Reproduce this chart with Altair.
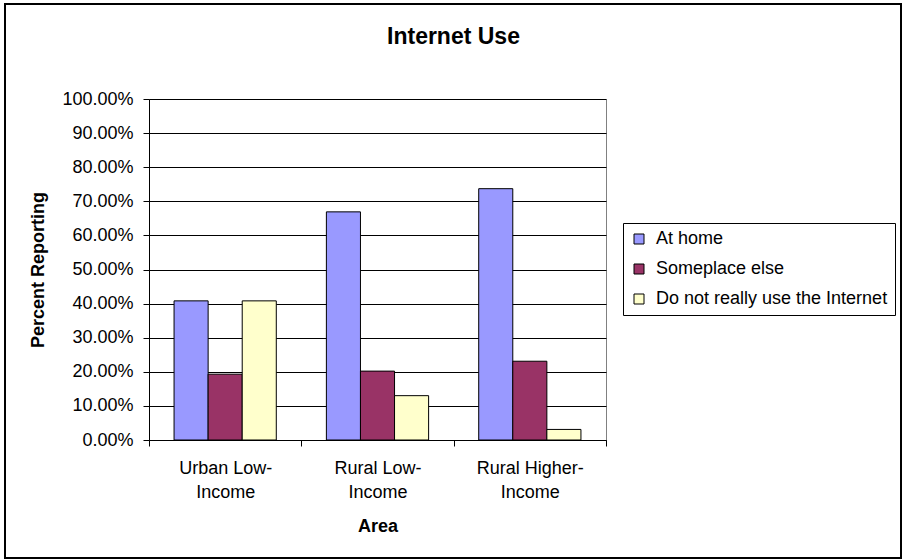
import altair as alt
import pandas as pd

areas = ["Urban Low-Income", "Rural Low-Income", "Rural Higher-Income"]
series = ["At home", "Someplace else", "Do not really use the Internet"]
at_home = [0.408, 0.669, 0.737]
someplace_else = [0.193, 0.202, 0.231]
not_use = [0.408, 0.130, 0.031]
colors = ["#9999FF", "#993366", "#FFFFCC"]
y_ticks = [i / 10 for i in range(11)]

rows = []
for i, a in enumerate(areas):
    for s, vals in zip(series, [at_home, someplace_else, not_use]):
        rows.append({"Area": a, "Series": s, "Value": vals[i]})
df = pd.DataFrame(rows)

FONT = "Arial"
W, H = 457, 341

bars = alt.Chart(df).mark_bar(stroke="black", strokeWidth=1).encode(
    x=alt.X("Area:N", sort=areas,
            scale=alt.Scale(paddingInner=0, paddingOuter=0),
            axis=alt.Axis(title="Area", labelAngle=0, tickBand="extent",
                          labelExpr="datum.label ? [split(datum.label,'-')[0] + '-', split(datum.label,'-')[1]] : ''",
                          labelLineHeight=24, labelPadding=13, tickSize=6,
                          titlePadding=16, labelBaseline="top",
                          labelFontSize=18, titleFontSize=18)),
    xOffset=alt.XOffset("Series:N", sort=series,
                        scale=alt.Scale(paddingInner=0, paddingOuter=0.735)),
    y=alt.Y("Value:Q", scale=alt.Scale(domain=[0, 1], nice=False),
            axis=alt.Axis(title="Percent Reporting", format=".2%", values=y_ticks,
                          tickSize=6, labelPadding=10, titlePadding=14,
                          labelFontSize=18, titleFontSize=18)),
    color=alt.Color("Series:N", sort=series,
                    scale=alt.Scale(domain=series, range=colors),
                    legend=alt.Legend(title=None, orient="none", legendX=474, legendY=124,
                                      strokeColor="black", fillColor="white", padding=7,
                                      symbolType="square", symbolSize=100,
                                      symbolStrokeColor="black", symbolStrokeWidth=1,
                                      labelOffset=8, rowPadding=12, labelLimit=400,
                                      labelFontSize=18, labelFont=FONT, labelColor="black")),
)

border = alt.Chart(pd.DataFrame({"k": [0]})).mark_rect(
    fill=None, stroke="black", strokeWidth=2
).encode(x=alt.value(-144), x2=alt.value(752), y=alt.value(-95), y2=alt.value(459))

chart = alt.layer(border, bars).properties(
    width=W, height=H,
    background="white",
    padding={"left": 149, "top": 99, "right": 906 - 149 - W, "bottom": 560 - 99 - H},
    autosize=alt.AutoSizeParams(type="none"),
    title=alt.TitleParams("Internet Use", fontSize=23, font=FONT, fontWeight="bold",
                          anchor="middle", dx=76, dy=64, offset=0, baseline="alphabetic",
                          color="black"),
).configure_view(stroke="#808080", strokeWidth=1, fill="white").configure_axis(
    labelFont=FONT, titleFont=FONT, labelFontSize=18, titleFontSize=18,
    labelColor="black", titleColor="black", domainColor="black", tickColor="black",
    gridColor="black", gridOpacity=1, titleFontWeight="bold"
).configure_axisX(grid=False)

chart.save("out.html", embed_options={"renderer": "svg", "actions": False})
